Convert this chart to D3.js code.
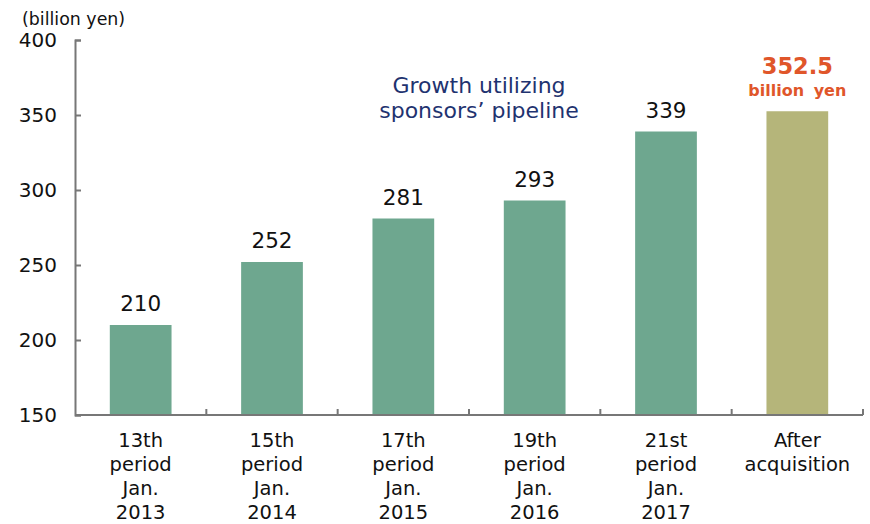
<!DOCTYPE html>
<html lang="en">
<head>
    <meta charset="UTF-8">
    <title>Asset size growth</title>
    <script src="https://d3js.org/d3.v7.min.js"></script>
    <style>
        body { margin: 0; background: #fff; }
        svg { display: block; font-family: Verdana, "DejaVu Sans", sans-serif; }
        .axis path, .axis line { stroke: #777; stroke-width: 2; }
    </style>
</head>
<body>
<div id="chart"></div>
<script>
    // chart data
    const categories = ["13th|period|Jan.|2013", "15th|period|Jan.|2014", "17th|period|Jan.|2015",
                        "19th|period|Jan.|2016", "21st|period|Jan.|2017", "After|acquisition"];
    const values = [210, 252, 281, 293, 339, 352.5];
    const valueLabels = ["210", "252", "281", "293", "339", "352.5"];
    const yTicks = [150, 200, 250, 300, 350, 400];

    const width = 870, height = 524;
    const margin = { top: 40, right: 7, bottom: 110, left: 75 };

    const svg = d3.select("#chart").append("svg")
        .attr("width", width)
        .attr("height", height);

    const x = d3.scaleBand()
        .domain(categories)
        .range([margin.left, width - margin.right])
        .paddingInner(0.53)
        .paddingOuter(0.265);

    const y = d3.scaleLinear()
        .domain([150, 400])
        .range([415, margin.top]);

    // bars
    svg.selectAll("rect.bar")
        .data(values)
        .enter().append("rect")
        .attr("class", "bar")
        .attr("x", (d, i) => x(categories[i]))
        .attr("y", d => y(d))
        .attr("width", x.bandwidth())
        .attr("height", d => y(150) - y(d))
        .style("fill", (d, i) => i === values.length - 1 ? "#b5b57a" : "#6ea78f");

    // y axis
    svg.append("g")
        .attr("class", "axis")
        .attr("transform", `translate(${margin.left},0)`)
        .call(d3.axisRight(y).tickValues(yTicks).tickSize(6).tickSizeOuter(6))
        .call(g => g.selectAll("text")
            .attr("x", -18)
            .attr("text-anchor", "end")
            .style("font-size", "20px")
            .style("font-family", "Verdana, 'DejaVu Sans', sans-serif")
            .style("fill", "#111"));

    // x axis with ticks between categories
    const step = x.step();
    const xb = svg.append("g").attr("class", "axis");
    xb.append("line")
        .attr("x1", margin.left).attr("x2", width - margin.right)
        .attr("y1", y(150)).attr("y2", y(150));
    xb.selectAll("line.sep")
        .data(d3.range(1, categories.length + 1))
        .enter().append("line")
        .attr("class", "sep")
        .attr("x1", i => margin.left + i * step)
        .attr("x2", i => margin.left + i * step)
        .attr("y1", y(150)).attr("y2", y(150) - 6);

    // category labels
    categories.forEach((c, i) => {
        const t = svg.append("text")
            .attr("text-anchor", "middle")
            .style("font-size", "19.5px")
            .style("fill", "#111")
            .attr("x", x(c) + x.bandwidth() / 2)
            .attr("y", 447);
        c.split("|").forEach((line, j) => {
            t.append("tspan")
                .attr("x", x(c) + x.bandwidth() / 2)
                .attr("dy", j === 0 ? 0 : 24)
                .text(line);
        });
    });

    // value labels
    values.slice(0, -1).forEach((v, i) => {
        svg.append("text")
            .attr("text-anchor", "middle")
            .attr("x", x(categories[i]) + x.bandwidth() / 2)
            .attr("y", y(v) - 14)
            .style("font-size", "21.5px")
            .style("fill", "#111")
            .text(valueLabels[i]);
    });

    const last = categories.length - 1;
    const lx = x(categories[last]) + x.bandwidth() / 2;
    svg.append("text")
        .attr("text-anchor", "middle")
        .attr("x", lx).attr("y", y(values[last]) - 37)
        .style("font-size", "22.5px").style("font-weight", "bold").style("fill", "#e0562a")
        .text(valueLabels[last]);
    svg.append("text")
        .attr("text-anchor", "middle")
        .attr("x", lx).attr("y", y(values[last]) - 15)
        .style("font-size", "16px").style("font-weight", "bold").style("fill", "#e0562a")
        .style("word-spacing", "4px")
        .text("billion yen");

    // unit label
    svg.append("text")
        .attr("x", 22).attr("y", 25)
        .style("font-size", "17.4px").style("fill", "#111")
        .text("(billion yen)");

    // annotation
    const note = svg.append("text")
        .attr("text-anchor", "middle")
        .style("font-size", "22px")
        .style("fill", "#1f3370");
    note.append("tspan").attr("x", 479).attr("y", 93).text("Growth utilizing");
    note.append("tspan").attr("x", 479).attr("y", 118).text("sponsors\u2019 pipeline");
</script>
</body>
</html>
